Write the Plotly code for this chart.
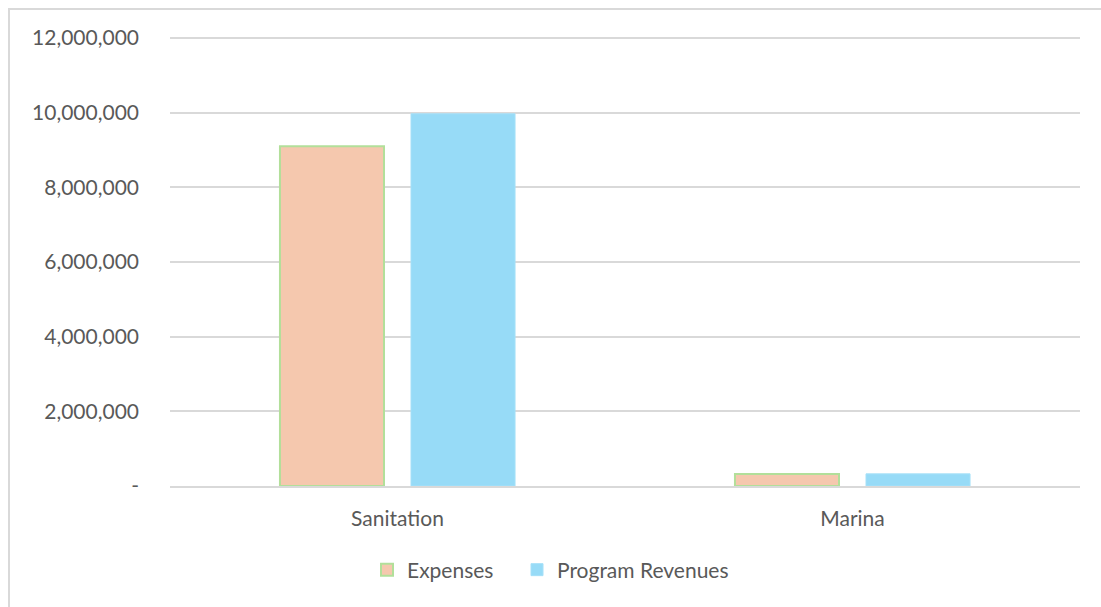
import plotly.graph_objects as go

categories = ["Sanitation", "Marina"]
expenses = [9100000, 320000]
program_revenues = [9970000, 325000]
tick_values = [0, 2000000, 4000000, 6000000, 8000000, 10000000, 12000000]
tick_labels = ["-", "2,000,000", "4,000,000", "6,000,000", "8,000,000", "10,000,000", "12,000,000"]

FONT = "Lato"
TXT = "#595959"

fig = go.Figure()
fig.add_trace(go.Bar(
    name="Expenses", x=categories, y=expenses, legend="legend",
    marker=dict(color="#F5C8AE", line=dict(color="#B2DF9A", width=2)),
))
fig.add_trace(go.Bar(
    name="Program Revenues", x=categories, y=program_revenues, legend="legend2",
    marker=dict(color="#97DBF7", line=dict(color="#A6E0F8", width=1)),
))

W, H = 1101, 607
L, R, T, B = 170, 21, 37, 121
pw, ph = W - L - R, H - T - B

def px_x(p):
    return (p - L) / pw

def px_y(p):
    return (H - B - p) / ph

leg_common = dict(orientation="h", xanchor="left", y=px_y(570), yanchor="middle",
                  font=dict(family=FONT, size=21, color=TXT), itemwidth=30,
                  bgcolor="rgba(0,0,0,0)")

fig.update_layout(
    width=W, height=H,
    margin=dict(l=L, r=R, t=T, b=B),
    paper_bgcolor="white", plot_bgcolor="white",
    barmode="group", bargap=0.424, bargroupgap=0.206,
    font=dict(family=FONT, size=21, color=TXT),
    showlegend=True,
    legend=dict(x=px_x(367), **leg_common),
    legend2=dict(x=px_x(517), **leg_common),
    shapes=[dict(type="rect", xref="paper", yref="paper",
                 x0=px_x(9), x1=px_x(1110), y0=px_y(616), y1=px_y(9),
                 line=dict(color="#D9D9D9", width=2), fillcolor="rgba(0,0,0,0)", layer="below")],
)
fig.update_yaxes(range=[0, 12027000], tickvals=tick_values, ticktext=tick_labels,
                 showgrid=True, gridcolor="#D9D9D9", gridwidth=1.5, zeroline=False,
                 showline=False, ticks="", ticklabelstandoff=30,
                 tickfont=dict(family=FONT, size=21, color=TXT))
fig.update_xaxes(showline=True, linecolor="#D9D9D9", linewidth=2, ticks="",
                 ticklabelstandoff=13, tickfont=dict(family=FONT, size=21, color=TXT))

fig.write_html("out.html")
